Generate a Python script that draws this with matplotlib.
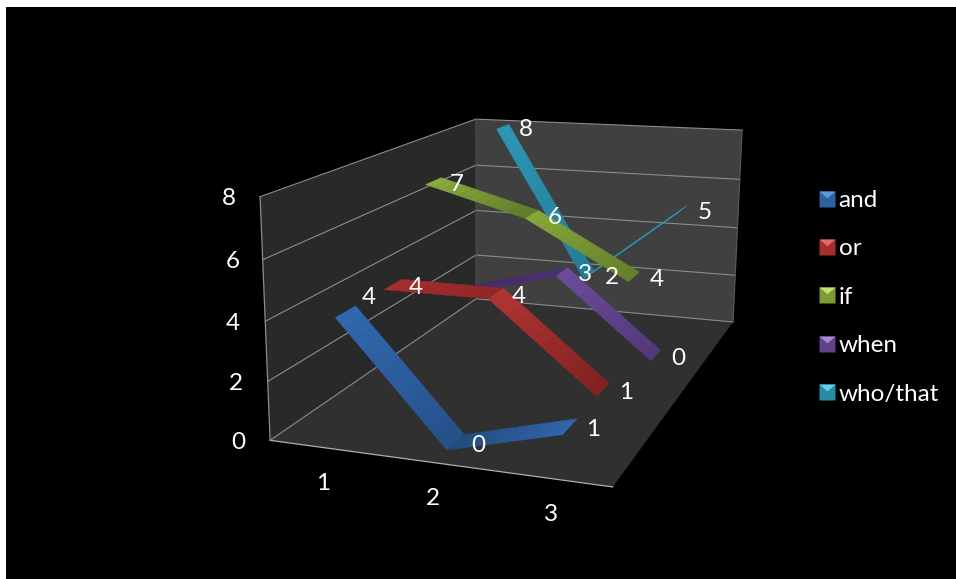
#!/usr/bin/env python
import numpy as np
import matplotlib
matplotlib.use('Agg')
import matplotlib.pyplot as plt
from matplotlib.lines import Line2D
from matplotlib.patches import Rectangle
from matplotlib.legend_handler import HandlerTuple
from mpl_toolkits.mplot3d.art3d import Poly3DCollection

plt.rcParams['font.family'] = ['Lato', 'DejaVu Sans']

categories = [1, 2, 3]
series_names = ['and', 'or', 'if', 'when', 'who/that']
and_values = [4, 0, 1]
or_values = [4, 4, 1]
if_values = [7, 6, 4]
when_values = [2, 3, 0]
who_values = [8, 2, 5]
value_ticks = [0, 2, 4, 6, 8]

W, H = 956, 579
XMIN, XMAX, YMIN, YMAX, ZMAX = 0.5, 3.5, 0, 5, 8
HALF = 0.2  # ribbon half depth

# box corners in data coords and where they sit in the picture, for the camera
corners_3d = [(XMIN, YMIN, 0), (XMAX, YMIN, 0), (XMAX, YMAX, 0), (XMIN, YMAX, 0),
              (XMIN, YMIN, ZMAX), (XMIN, YMAX, ZMAX), (XMAX, YMAX, ZMAX)]
corners_px = [(270, 440), (613, 487), (733, 322), (476, 299),
              (260, 197), (476, 119), (742, 130)]


def fit_camera(pts3, pts2):
    rows = []
    for (x, y, z), (u, v) in zip(pts3, pts2):
        rows.append([x, y, z, 1, 0, 0, 0, 0, -u*x, -u*y, -u*z, -u])
        rows.append([0, 0, 0, 0, x, y, z, 1, -v*x, -v*y, -v*z, -v])
    return np.linalg.svd(np.array(rows))[2][-1].reshape(3, 4)


P = fit_camera(corners_3d, corners_px)


def to_px(x, y, z):
    u, v, w = P @ np.array([x, y, z, 1.0])
    return u / w, v / w


fig = plt.figure(figsize=(W / 100, H / 100), dpi=100, facecolor='white')
fig.add_artist(Rectangle((6 / W, 0), 950 / W, 572 / H, transform=fig.transFigure,
                         facecolor='black', edgecolor='none', zorder=-5))

ax = fig.add_axes([0, 0, 1, 1], projection='3d', computed_zorder=False)
ax.patch.set_visible(False)
ax.set_axis_off()
ax.apply_aspect = lambda position=None: None

# mplot3d camera replaced by the fitted one, scaled into the axes' 2D limits
x0, x1 = ax.viewLim.intervalx
y0, y1 = ax.viewLim.intervaly
to_view = np.array([[(x1 - x0) / W, 0, x0], [0, -(y1 - y0) / H, y1], [0, 0, 1]])
PV = to_view @ P
M = np.array([PV[0], PV[1], [0, 1, 0, 0], PV[2]])
ax.get_proj = lambda: M

# walls and floor
floor = [(XMIN, YMIN, 0), (XMAX, YMIN, 0), (XMAX, YMAX, 0), (XMIN, YMAX, 0)]
left_wall = [(XMIN, YMIN, 0), (XMIN, YMAX, 0), (XMIN, YMAX, ZMAX), (XMIN, YMIN, ZMAX)]
back_wall = [(XMIN, YMAX, 0), (XMAX, YMAX, 0), (XMAX, YMAX, ZMAX), (XMIN, YMAX, ZMAX)]
ax.add_collection3d(Poly3DCollection([left_wall], facecolor='#292929', edgecolor='none', zorder=1))
ax.add_collection3d(Poly3DCollection([back_wall], facecolor='#404040', edgecolor='none', zorder=1))
ax.add_collection3d(Poly3DCollection([floor], facecolor='#303030', edgecolor='none', zorder=1))

GRID = '#8c8c8c'
for t in value_ticks:
    ax.plot([XMIN, XMIN, XMAX], [YMIN, YMAX, YMAX], [t, t, t], color=GRID, lw=0.8, zorder=2)
ax.plot([XMIN, XMAX], [YMIN, YMIN], [0, 0], color='#b0b0b0', lw=0.9, zorder=2)
ax.plot([XMIN, XMIN], [YMIN, YMIN], [0, ZMAX], color=GRID, lw=0.9, zorder=2)
ax.plot([XMAX, XMAX], [YMAX, YMAX], [0, ZMAX], color='#5a5a5a', lw=0.8, zorder=2)
ax.plot([XMIN, XMIN], [YMAX, YMAX], [0, ZMAX], color='#4a4a4a', lw=0.8, zorder=2)

all_values = [and_values, or_values, if_values, when_values, who_values]
# shade at start and end of each segment of a ribbon
shades = [
    [('#3069ae', '#26518a'), ('#234a7c', '#2f66ab')],
    [('#a82e2d', '#8e2726'), ('#b23533', '#7f2120')],
    [('#8cad3d', '#5f7a2a'), ('#88a83a', '#637f2b')],
    [('#452a66', '#4c3172'), ('#6c4c9c', '#533878')],
    [('#2c97b6', '#217d97'), ('#2a9ab8', '#2a9ab8')],
]
legend_colors = [('#2e61a0', '#5a9be0'), ('#a52f2d', '#e06a68'), ('#7d9a35', '#c4e070'),
                 ('#5f4488', '#a888d8'), ('#2a8ba6', '#60d0e8')]


def blend(c0, c1, t):
    a, b = np.array(matplotlib.colors.to_rgb(c0)), np.array(matplotlib.colors.to_rgb(c1))
    return a + (b - a) * t


# back series first, like the reference
for idx in range(len(all_values) - 1, -1, -1):
    vals = all_values[idx]
    yc = idx + 0.5
    for k in range(len(vals) - 1):
        ts = np.linspace(0, 1, 13)
        quads, cols = [], []
        for a, b in zip(ts[:-1], ts[1:]):
            xa = categories[k] + (categories[k + 1] - categories[k]) * a
            xb = categories[k] + (categories[k + 1] - categories[k]) * b
            za = vals[k] + (vals[k + 1] - vals[k]) * a
            zb = vals[k] + (vals[k + 1] - vals[k]) * b
            quads.append([(xa, yc - HALF, za), (xa, yc + HALF, za), (xb, yc + HALF, zb), (xb, yc - HALF, zb)])
            cols.append(blend(*shades[idx][k], (a + b) / 2))
        ax.add_collection3d(Poly3DCollection(quads, facecolors=cols, edgecolors=cols, linewidths=0.3,
                                             zorder=10 + (5 - idx) * 2 + k * 0.1))

# text in pixel positions taken from the camera
TXT = dict(color='white', fontsize=17.5, ha='center', va='center')


def put(px, py, s):
    fig.text(px / W, 1 - py / H, s, **TXT)


for idx, vals in enumerate(all_values):
    for c, (cat, v) in enumerate(zip(categories, vals)):
        if (idx, c) == (3, 0):  # this label is not shown in the reference
            continue
        u, w = to_px(cat, idx + 0.5, v)
        dy = -14 if (idx, c) == (0, 0) else 3
        put(u + 23, w + dy, str(v))
for t, dx in zip(value_ticks, [-32, -32, -32, -30, -31]):
    u, w = to_px(XMIN, YMIN, t)
    put(u + dx, w + 2, str(t))
for cat in categories:
    u, w = to_px(cat, YMIN, 0)
    put(u, w + 36, str(cat))

# legend keys: square with a lighter bevel on top
bevel = [(-1, 1), (1, 1), (0, 0.15)]
handles = []
for base, light in legend_colors:
    sq = Line2D([], [], ls='none', marker='s', ms=11.5, mfc=base, mec='none')
    tri = Line2D([], [], ls='none', marker=bevel, ms=11.5, mfc=light, mec='none')
    handles.append((sq, tri))
fig.legend(handles, series_names, handler_map={tuple: HandlerTuple(ndivide=1, pad=0)},
           loc='upper left', bbox_to_anchor=(815 / W, 1 - 190 / H), bbox_transform=fig.transFigure,
           frameon=False, labelcolor='white', fontsize=17.5, labelspacing=1.13,
           handlelength=0.95, handletextpad=0.02, borderpad=0, borderaxespad=0)

plt.savefig('out.png', dpi=100)
plt.close('all')
